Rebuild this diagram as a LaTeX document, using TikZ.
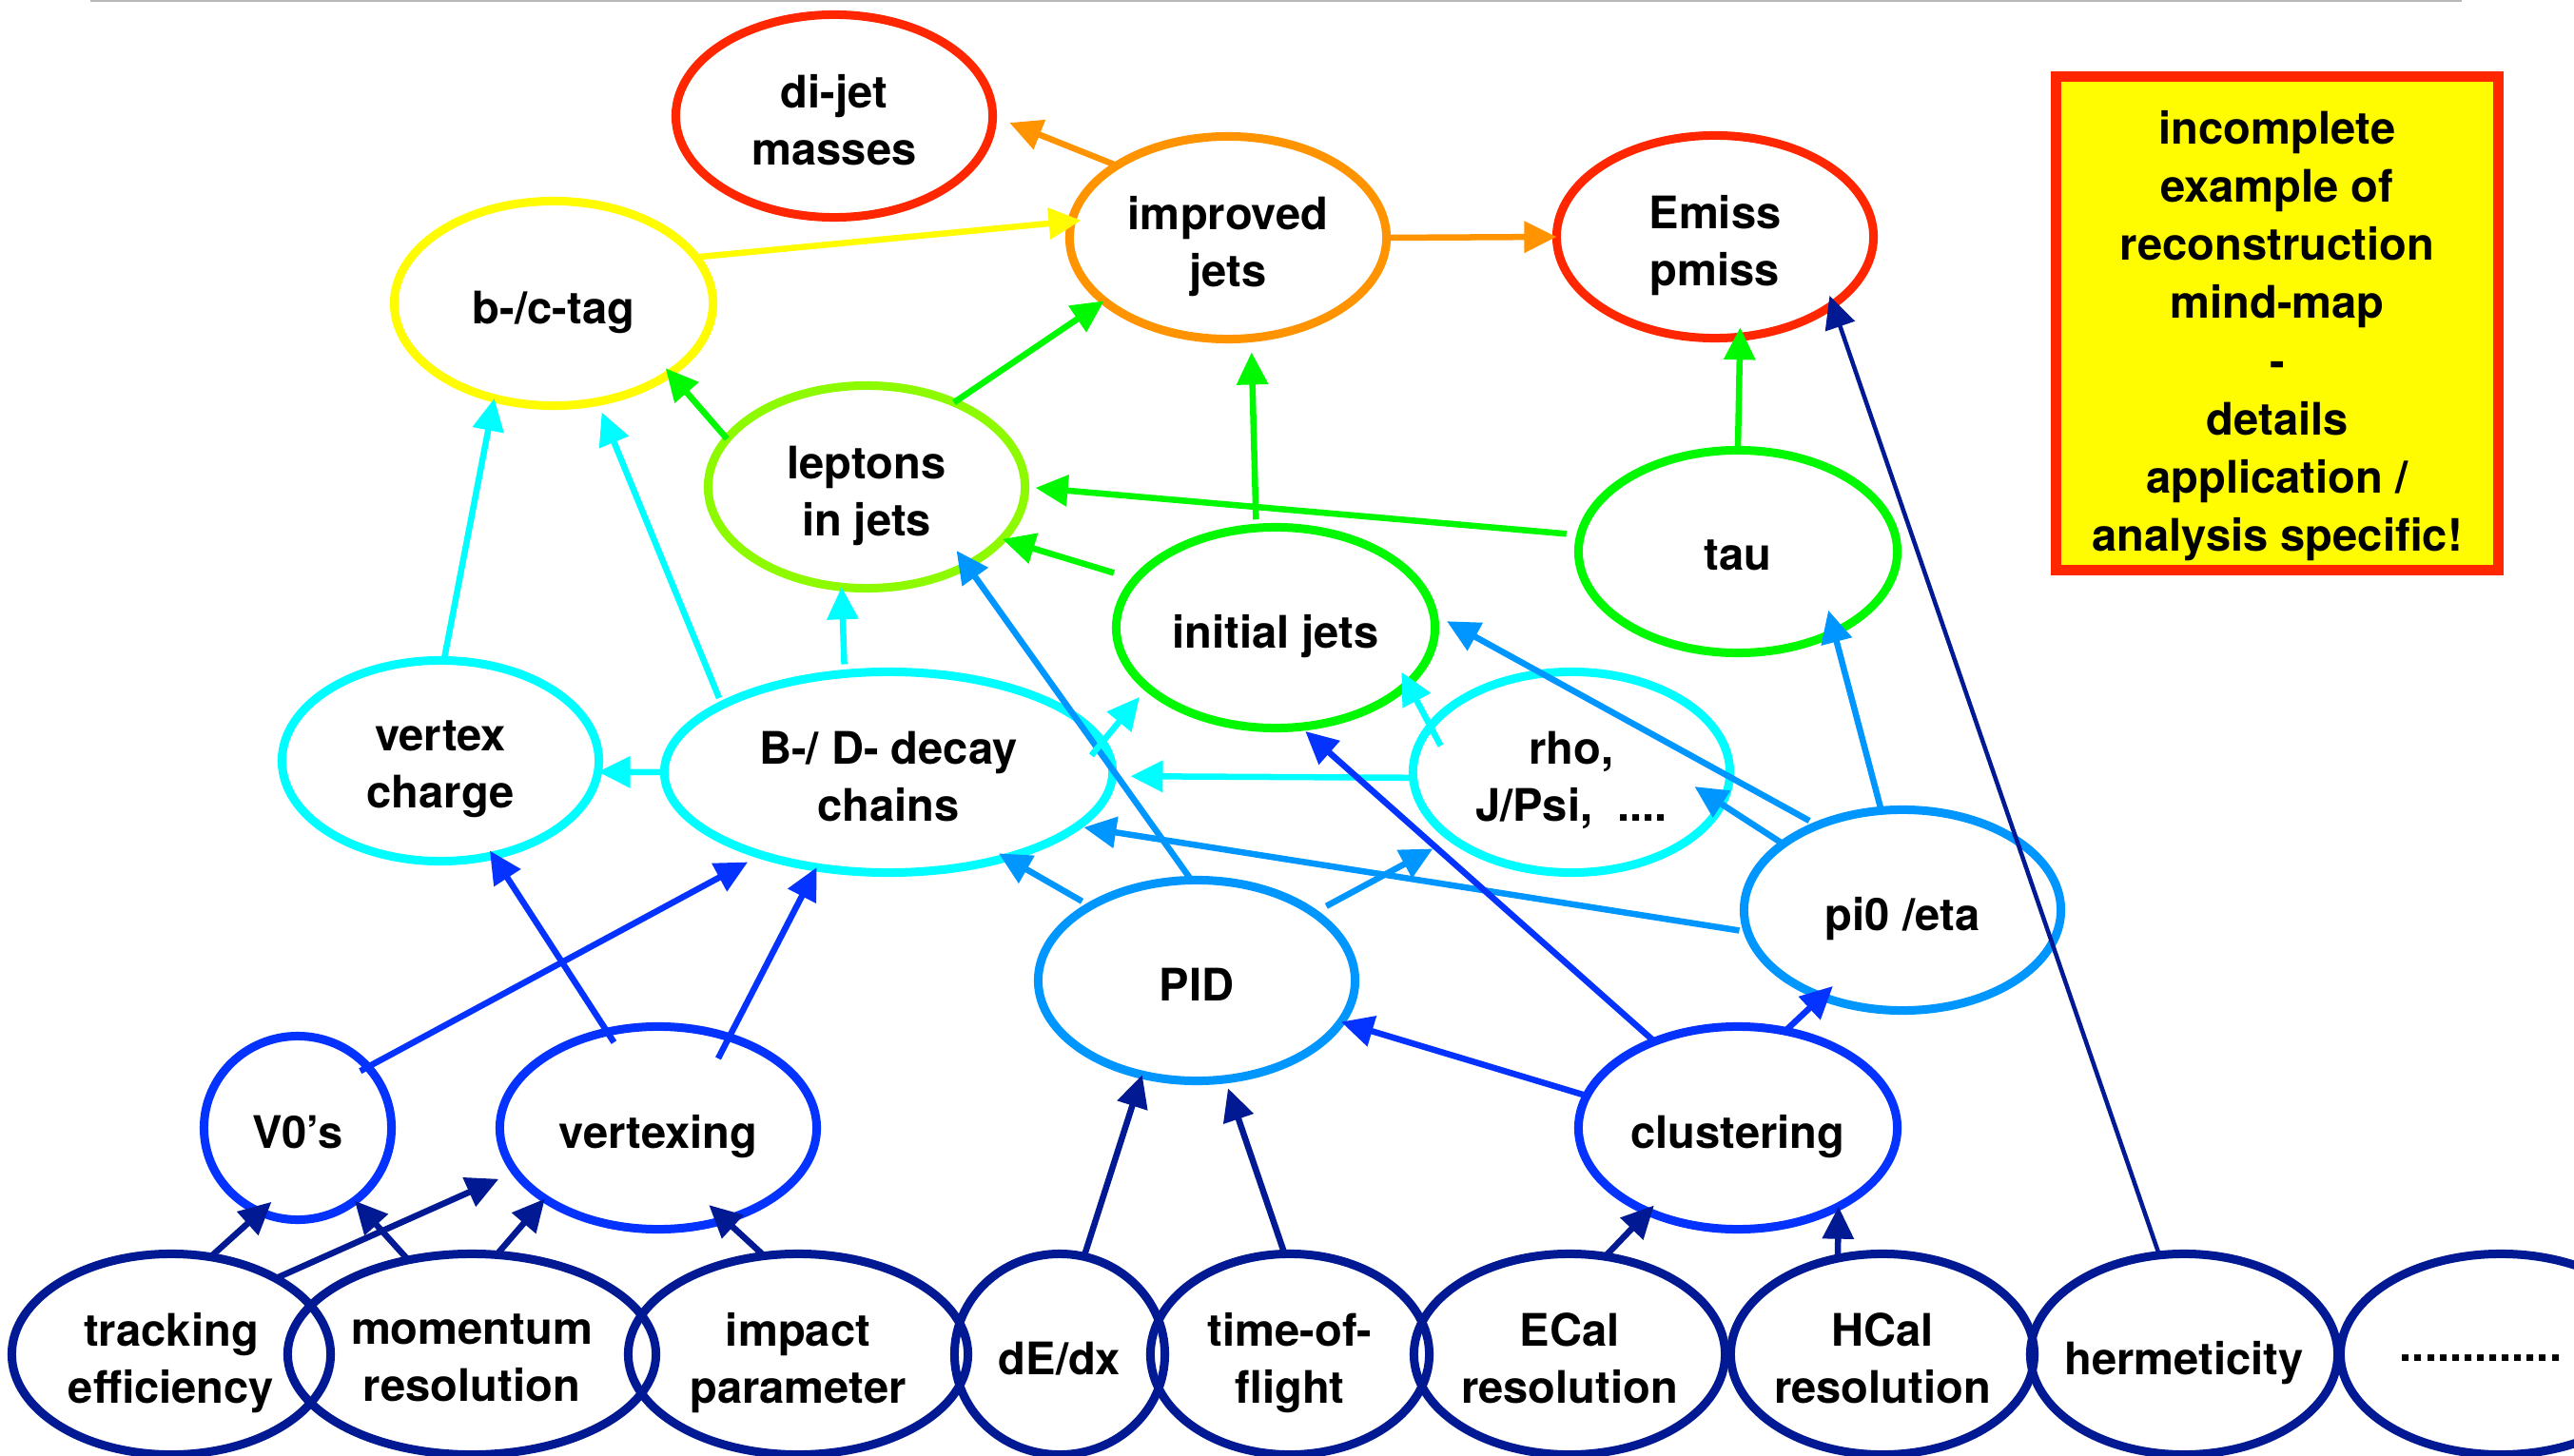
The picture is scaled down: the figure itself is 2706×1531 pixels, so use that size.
\documentclass[tikz,border=0pt]{standalone}
\usepackage{fontspec}
\setmainfont{TeX Gyre Heros}
\usetikzlibrary{shapes.geometric,arrows.meta}
\definecolor{mred}{HTML}{FF2600}
\definecolor{morange}{HTML}{FF9300}
\definecolor{myellow}{HTML}{FFFB00}
\definecolor{mlime}{HTML}{8EFA00}
\definecolor{mgreen}{HTML}{00F900}
\definecolor{mcyan}{HTML}{00FDFF}
\definecolor{msky}{HTML}{0096FF}
\definecolor{mblue}{HTML}{0433FF}
\definecolor{mnavy}{HTML}{011993}
\newcommand\mmfont{\bfseries\fontsize{13.4pt}{17.1pt}\selectfont}
\tikzset{
  ell/.style={draw, ellipse, line width=0.09cm, inner sep=0pt, outer sep=0pt},
  esz/.style 2 args={minimum width=#1cm, minimum height=#2cm},
  every label/.style={align=center, inner sep=0pt, font=\mmfont, text=black, text depth=0pt, yshift=-0.04cm},
  con/.style={line width=0.065cm, -{Triangle[length=0.34cm,width=0.32cm]}},
}
\begin{document}
\begin{tikzpicture}[x=0.01cm,y=-0.01cm]
\useasboundingbox (0,0) rectangle (2706,1531);
\draw[black!28, line width=0.03cm] (95,1) -- (2588,1);

% top level
\node[ell, draw=mred, esz={3.33}{2.13}, label={center:{di-jet\\masses}}] (dijet) at (877,122) {};
\node[ell, draw=myellow, esz={3.35}{2.15}, label={center:{b-/c-tag}}] (btag) at (582,319) {};
\node[ell, draw=morange, esz={3.33}{2.13}, label={center:{improved\\jets}}] (impr) at (1291,250) {};
\node[ell, draw=mred, esz={3.33}{2.13}, label={center:{Emiss\\pmiss}}] (emiss) at (1803,249) {};
\node[ell, draw=mlime, esz={3.33}{2.13}, label={center:{leptons\\in jets}}] (lept) at (911,512) {};
\node[ell, draw=mgreen, esz={3.35}{2.11}, label={center:{initial jets}}] (init) at (1341,660) {};
\node[ell, draw=mgreen, esz={3.35}{2.13}, label={center:{tau}}] (tau) at (1827,580) {};
% middle
\node[ell, draw=mcyan, esz={3.33}{2.11}, label={center:{vertex\\charge}}] (vcharge) at (463,800) {};
\node[ell, draw=mcyan, esz={4.71}{2.11}, label={center:{B-/ D- decay\\chains}}] (bd) at (934,812) {};
\node[ell, draw=mcyan, esz={3.33}{2.11}, label={center:{rho,\\J/Psi,~ ....}}] (rho) at (1652,812) {};
\node[ell, draw=msky, esz={3.33}{2.11}, label={center:{pi0 /eta}}] (pi0) at (2000,957) {};
\node[ell, draw=msky, esz={3.33}{2.11}, label={center:{PID}}] (pid) at (1258,1031) {};
\node[ell, draw=mblue, esz={3.35}{2.13}, label={center:{clustering}}] (clus) at (1827,1186) {};
\node[ell, draw=mblue, esz={1.97}{1.93}, label={center:{V0’s}}] (v0) at (313,1186) {};
\node[ell, draw=mblue, esz={3.33}{2.13}, label={center:{vertexing}}] (vtx) at (692,1186) {};
% bottom row
\node[ell, draw=mnavy, esz={3.35}{2.11}, label={center:{tracking\\efficiency}}] (trk) at (180,1424) {};
\node[ell, draw=mnavy, esz={3.87}{2.11}, label={center:{momentum\\resolution}}] (mom) at (496,1424) {};
\node[ell, draw=mnavy, esz={3.57}{2.11}, label={center:{impact\\parameter}}] (imp) at (839,1424) {};
\node[ell, draw=mnavy, esz={2.21}{2.11}, label={center:{dE/dx}}] (dedx) at (1114,1424) {};
\node[ell, draw=mnavy, esz={2.93}{2.11}, label={center:{time-of-\\flight}}] (tof) at (1356,1424) {};
\node[ell, draw=mnavy, esz={3.27}{2.11}, label={center:{ECal\\resolution}}] (ecal) at (1650,1424) {};
\node[ell, draw=mnavy, esz={3.19}{2.11}, label={center:{HCal\\resolution}}] (hcal) at (1979,1424) {};
\node[ell, draw=mnavy, esz={3.23}{2.11}, label={center:{hermeticity}}] (herm) at (2296,1424) {};
\node[ell, draw=mnavy, esz={3.37}{2.11}, label={[xshift=-0.21cm]center:{.............}}] (more) at (2629,1424) {};

% note box
\node[draw=mred, fill=myellow, line width=0.11cm, minimum width=4.64cm, minimum height=5.18cm, inner sep=0pt,
      label={[font=\bfseries\fontsize{13.4pt}{17.4pt}\selectfont, yshift=-0.04cm]center:{incomplete\\example of\\reconstruction\\mind-map\\-\\details\\application /\\analysis specific!}}] (note) at (2394,340) {};

% connectors
\draw[con,morange,shorten >=0.19cm] (impr.147) -- (dijet.0);
\draw[con,myellow,shorten >=-0.1cm] (btag.18) -- (impr.174);
\draw[con,mgreen] (lept.44) -- (impr.-153);
\draw[con,mgreen,shorten >=-0.07cm] (lept.161) -- (btag.-31);
\draw[con,mcyan] (vcharge.88) -- (btag.-122);
\draw[con,mcyan,shorten <=0.08cm,shorten >=0.12cm] (bd.158) -- (btag.-66);
\draw[con,mcyan,shorten <=0.1cm] (bd.114) -- (lept.-104);
\draw[con,msky,shorten >=-0.19cm] (pid.93) -- (lept.-38);
\draw[con,mgreen,shorten <=0.24cm] (init.161) -- (lept.-21);
\draw[con,mgreen,shorten <=0.15cm,shorten >=0.11cm] (tau.174) -- (lept.0);
\draw[con,mgreen,shorten <=0.09cm,shorten >=0.15cm] (init.101) -- (impr.-77);
\draw[con,morange] (impr.0) -- (emiss.180);
\draw[con,mgreen,shorten >=-0.1cm] (tau.90) -- (emiss.-76);
\draw[con,mnavy,line width=0.045cm,shorten >=-0.1cm] (herm.104) -- (emiss.-30);
\draw[con,mcyan] (bd.180) -- (vcharge.-4);
\draw[con,mcyan,shorten >=0.19cm] (rho.182) -- (bd.-1);
\draw[con,mcyan,shorten <=-0.23cm,shorten >=-0.14cm] (rho.162) -- (init.-23);
\draw[con,mcyan,shorten <=-0.18cm,shorten >=0.13cm] (bd.8) -- (init.205);
\draw[con,msky,shorten <=0.15cm,shorten >=0.23cm] (pid.30) -- (rho.209);
\draw[con,msky,shorten <=0.1cm,shorten >=-0.09cm] (pid.145) -- (bd.-36);
\draw[con,msky,shorten <=0.09cm,shorten >=0.07cm] (pi0.188) -- (bd.-16);
\draw[con,msky,shorten >=-0.34cm] (pi0.151) -- (rho.-12);
\draw[con,msky,shorten <=0.1cm,shorten >=0.16cm] (pi0.135) -- (init.5);
\draw[con,msky,shorten >=-0.24cm] (pi0.102) -- (tau.-40);
\draw[con,mblue,shorten >=0.07cm] (clus.134) -- (init.-76);
\draw[con,mblue] (clus.168) -- (pid.-16);
\draw[con,mblue,shorten >=-0.16cm] (clus.64) -- (pi0.227);
\draw[con,mblue,shorten <=-0.09cm,shorten >=0.16cm] (v0.41) -- (bd.213);
\draw[con,mblue,shorten <=-0.13cm,shorten >=-0.06cm] (vtx.118) -- (vcharge.-61);
\draw[con,mblue,shorten <=-0.25cm] (vtx.52) -- (bd.233);
\draw[con,mnavy,shorten >=-0.16cm] (trk.68) -- (v0.-114);
\draw[con,mnavy,shorten >=0.19cm] (trk.36) -- (vtx.197);
\draw[con,mnavy] (mom.124) -- (v0.-52);
\draw[con,mnavy] (mom.76) -- (vtx.212);
\draw[con,mnavy,shorten >=-0.23cm] (imp.109) -- (vtx.-54);
\draw[con,mnavy] (dedx.76) -- (pid.240);
\draw[con,mnavy,shorten >=0.1cm] (tof.93) -- (pid.-74);
\draw[con,mnavy,shorten >=-0.09cm] (ecal.70) -- (clus.223);
\draw[con,mnavy] (hcal.115) -- (clus.-38);
\end{tikzpicture}
\end{document}
